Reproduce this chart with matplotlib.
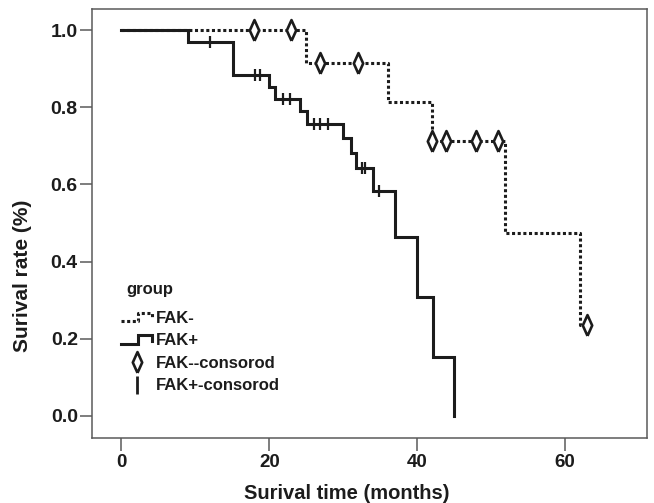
import numpy as np
import matplotlib
matplotlib.use("Agg")
import matplotlib.pyplot as plt
from matplotlib.lines import Line2D
from matplotlib.legend_handler import HandlerBase, HandlerLine2D

plt.rcParams['font.family'] = ['Liberation Sans', 'DejaVu Sans']
plt.rcParams['font.weight'] = 'bold'
plt.rcParams['axes.labelweight'] = 'bold'

# Kaplan-Meier step data (months, survival)
fak_neg_time = [0, 25.0, 36.0, 42.0, 51.9, 62.0, 63.0]
fak_neg_surv = [1.0, 0.915, 0.814, 0.714, 0.473, 0.235, 0.235]
fak_neg_cens = [17.9, 22.9, 26.9, 32.0, 42.0, 43.9, 48.0, 51.0, 63.0]

fak_pos_time = [0, 9.0, 15.1, 19.9, 20.8, 24.2, 25.1, 30.0, 31.0, 31.8,
                34.0, 37.0, 40.0, 42.1, 45.0]
fak_pos_surv = [1.0, 0.970, 0.884, 0.854, 0.822, 0.791, 0.758, 0.720, 0.681,
                0.642, 0.584, 0.464, 0.309, 0.153, 0.0]
fak_pos_cens = [12.0, 18.1, 18.7, 21.9, 22.8, 26.0, 26.9, 28.0, 32.5, 32.9, 34.9]

x_ticks = [0, 20, 40, 60]
y_ticks = [0.0, 0.2, 0.4, 0.6, 0.8, 1.0]
legend_labels = ['FAK-', 'FAK+', 'FAK--consorod', 'FAK+-consorod']

INK = '#1c1c1c'
GRID = '#5a5a5a'
diamond = [(0, -1), (0.45, 0), (0, 1), (-0.45, 0), (0, -1)]


def surv_at(times, surv, t):
    i = np.searchsorted(times, t, side='right') - 1
    return np.asarray(surv)[i]


class StepHandler(HandlerBase):
    # draws the little step glyph used by SPSS legends
    def create_artists(self, legend, orig_handle, xdescent, ydescent,
                       width, height, fontsize, trans):
        xs = np.array([0, 0.52, 0.52, 0.97, 0.97]) * width - xdescent
        ys = np.array([0.15, 0.15, 0.85, 0.85, 0.35]) * height - ydescent
        line = Line2D(xs, ys)
        line.update_from(orig_handle)
        line.set_marker('')
        line.set_transform(trans)
        return [line]


def bigger_tick(handle, orig):
    handle.update_from(orig)
    handle.set_markersize(13)
    handle.set_markeredgewidth(2.0)


fig = plt.figure(figsize=(6.54, 5.03), dpi=100)
ax = fig.add_axes([0.1402, 0.1298, 0.8486, 0.8517])

neg_line, = ax.step(fak_neg_time, fak_neg_surv, where='post', color=INK,
                    lw=2.2, linestyle=(0, (1.0, 0.85)), dash_capstyle='butt')
pos_line, = ax.step(fak_pos_time, fak_pos_surv, where='post', color=INK,
                    lw=2.2, solid_joinstyle='miter')

neg_cy = [surv_at(fak_neg_time, fak_neg_surv, c) for c in fak_neg_cens]
pos_cy = [surv_at(fak_pos_time, fak_pos_surv, c) for c in fak_pos_cens]
neg_mk, = ax.plot(fak_neg_cens, neg_cy, linestyle='none', marker=diamond,
                  ms=15, mfc='white', mec=INK, mew=1.9)
pos_mk, = ax.plot(fak_pos_cens, pos_cy, linestyle='none', marker='|',
                  ms=9, mec=INK, mew=1.6)

ax.set_xlim(-4.03, 71.07)
ax.set_ylim(-0.057, 1.0545)
ax.set_xticks(x_ticks)
ax.set_xticklabels([str(v) for v in x_ticks])
ax.set_yticks(y_ticks)
ax.set_yticklabels([f'{v:.1f}' for v in y_ticks])

for s in ax.spines.values():
    s.set_color(GRID)
    s.set_linewidth(1.1)
ax.tick_params(axis='x', length=9.4, width=1.1, color=GRID, pad=2.2,
               labelsize=13.5, labelcolor=INK)
ax.tick_params(axis='y', length=9.0, width=1.1, color=GRID, pad=1.0,
               labelsize=14, labelcolor=INK)

ax.set_xlabel('Surival time (months)', fontsize=14.5, color=INK, va='top')
ax.xaxis.set_label_coords(0.459, -0.108)
ax.set_ylabel('Surival rate (%)', fontsize=15, color=INK)
ax.yaxis.set_label_coords(-0.108, 0.377)

ax.text(0.0618, 0.346, 'group', transform=ax.transAxes, fontsize=12,
        color=INK, ha='left', va='center')
leg = ax.legend([neg_line, pos_line, neg_mk, pos_mk], legend_labels,
                loc='upper left', bbox_to_anchor=(0.053, 0.296),
                frameon=False, fontsize=12,
                handlelength=1.9, handletextpad=0.2, labelspacing=0.45,
                borderpad=0, borderaxespad=0,
                handler_map={neg_line: StepHandler(), pos_line: StepHandler(),
                             pos_mk: HandlerLine2D(update_func=bigger_tick)})
for t in leg.get_texts():
    t.set_color(INK)

fig.savefig('out.png', dpi=100)
